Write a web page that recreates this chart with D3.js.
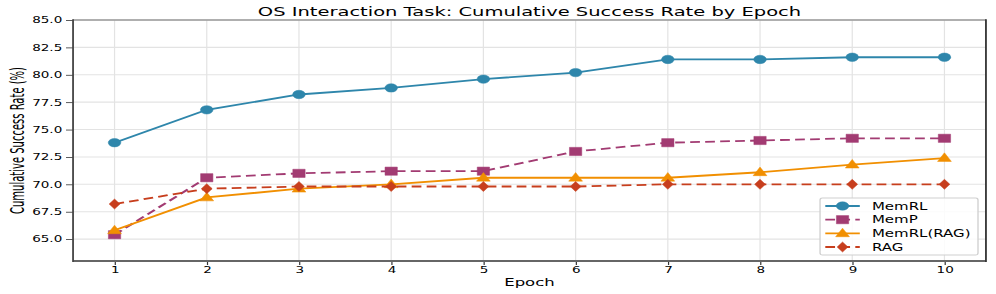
<!DOCTYPE html>
<html>
<head>
<meta charset="utf-8">
<script src="https://cdn.jsdelivr.net/npm/d3@7"></script>
<style>
  html, body { margin: 0; padding: 0; background: #fff; }
  svg { display: block; }
  text { font-family: "DejaVu Sans", sans-serif; fill: #000; }
</style>
</head>
<body>
<script>
// ---------------- data ----------------
const epochs = [1, 2, 3, 4, 5, 6, 7, 8, 9, 10];
const seriesNames = ["MemRL", "MemP", "MemRL(RAG)", "RAG"];
const memrl    = [73.8, 76.8, 78.2, 78.8, 79.6, 80.2, 81.4, 81.4, 81.6, 81.6];
const memp     = [65.4, 70.6, 71.0, 71.2, 71.2, 73.0, 73.8, 74.0, 74.2, 74.2];
const memrlRag = [65.8, 68.8, 69.6, 70.0, 70.6, 70.6, 70.6, 71.1, 71.8, 72.4];
const rag      = [68.2, 69.6, 69.8, 69.8, 69.8, 69.8, 70.0, 70.0, 70.0, 70.0];
const yTicks = [65.0, 67.5, 70.0, 72.5, 75.0, 77.5, 80.0, 82.5, 85.0];
const xTicks = epochs;
const titleText = "OS Interaction Task: Cumulative Success Rate by Epoch";
const xLabel = "Epoch";
const yLabel = "Cumulative Success Rate (%)";

(function () {
// ---------------- styles ----------------
const styles = [
  { color: "#2E86AB", dash: null,      marker: "circle"   },
  { color: "#A23B72", dash: "6.5,3.5", marker: "square"   },
  { color: "#F18F01", dash: null,      marker: "triangle" },
  { color: "#C73E1D", dash: "6.5,3.5", marker: "diamond"  }
];
const allValues = [memrl, memp, memrlRag, rag];

// The figure is drawn in a narrower virtual space and stretched horizontally.
const SX = 1.5;
const W = 996, H = 294;
const VW = W / SX;

const svg = d3.select("body").append("svg")
  .attr("width", W).attr("height", H)
  .attr("viewBox", `0 0 ${VW} ${H}`)
  .attr("preserveAspectRatio", "none");

const pLeft = 48.7, pRight = 657.3, pTop = 20, pBottom = 261;

const x = d3.scaleLinear().domain([0.55, 10.45]).range([pLeft, pRight]);
const y = d3.scaleLinear().domain([63, 85]).range([pBottom, pTop]);

// grid
const grid = svg.append("g");
grid.selectAll("line.gx").data(xTicks).join("line")
  .attr("class", "gx")
  .attr("x1", d => x(d)).attr("x2", d => x(d))
  .attr("y1", pTop).attr("y2", pBottom)
  .attr("stroke", "#e3e3e3").attr("stroke-width", 0.8);
grid.selectAll("line.gy").data(yTicks).join("line")
  .attr("class", "gy")
  .attr("x1", pLeft).attr("x2", pRight)
  .attr("y1", d => y(d)).attr("y2", d => y(d))
  .attr("stroke", "#e3e3e3").attr("stroke-width", 1.1);

// axes
const xAxis = d3.axisBottom(x).tickValues(xTicks).tickSize(4).tickPadding(2).tickFormat(d3.format("d"));
const yAxis = d3.axisLeft(y).tickValues(yTicks).tickSize(4.7).tickPadding(2.5).tickFormat(d3.format(".1f"));

const gx = svg.append("g").attr("transform", `translate(0,${pBottom})`).call(xAxis);
const gy = svg.append("g").attr("transform", `translate(${pLeft},0)`).call(yAxis);
[gx, gy].forEach(g => {
  g.select(".domain").remove();
  g.selectAll(".tick line").attr("stroke", "#333").attr("stroke-width", 0.8);
  g.selectAll(".tick text").attr("font-size", 9).attr("fill", "#000")
    .style("font-family", "DejaVu Sans, sans-serif");
});

// spines
svg.append("line").attr("x1", pLeft).attr("x2", pRight).attr("y1", pTop).attr("y2", pTop)
  .attr("stroke", "#999").attr("stroke-width", 1.6);
svg.append("line").attr("x1", pLeft).attr("x2", pRight).attr("y1", pBottom).attr("y2", pBottom)
  .attr("stroke", "#666").attr("stroke-width", 1.8);
svg.append("line").attr("x1", pLeft).attr("x2", pLeft).attr("y1", pTop - 0.8).attr("y2", pBottom + 0.9)
  .attr("stroke", "#444").attr("stroke-width", 1.2);
svg.append("line").attr("x1", pRight).attr("x2", pRight).attr("y1", pTop - 0.8).attr("y2", pBottom + 0.9)
  .attr("stroke", "#333").attr("stroke-width", 1.2);

// marker shapes (virtual units, centered)
function markerPath(type) {
  switch (type) {
    case "circle": return d3.symbol(d3.symbolCircle, Math.PI * 4.2 * 4.2)();
    case "square": return "M-4.1,-4.1H4.1V4.1H-4.1Z";
    case "triangle": return "M0,-5.2L4.6,3.4L-4.6,3.4Z";
    case "diamond": return "M0,-5L3.6,0L0,5L-3.6,0Z";
  }
}

const line = d3.line().x(d => x(d.e)).y(d => y(d.v));

seriesNames.forEach((name, i) => {
  const st = styles[i];
  const pts = epochs.map((e, j) => ({ e, v: allValues[i][j] }));
  const g = svg.append("g");
  g.append("path").datum(pts)
    .attr("d", line)
    .attr("fill", "none")
    .attr("stroke", st.color)
    .attr("stroke-width", 1.8)
    .attr("stroke-dasharray", st.dash);
  g.selectAll("path.m").data(pts).join("path")
    .attr("class", "m")
    .attr("d", markerPath(st.marker))
    .attr("transform", d => `translate(${x(d.e)},${y(d.v)})`)
    .attr("fill", st.color)
    .attr("stroke", st.color)
    .attr("stroke-width", 0.4);
});

// title
svg.append("text")
  .attr("x", (pLeft + pRight) / 2).attr("y", 16.5)
  .attr("text-anchor", "middle")
  .attr("font-size", 13)
  .text(titleText);

// x label
svg.append("text")
  .attr("x", (pLeft + pRight) / 2).attr("y", 286.5)
  .attr("text-anchor", "middle")
  .attr("font-size", 11)
  .text(xLabel);

// y label
svg.append("text")
  .attr("transform", `translate(11.6,${140.5}) rotate(-90)`)
  .attr("text-anchor", "middle")
  .attr("dominant-baseline", "central")
  .attr("font-size", 13)
  .attr("textLength", 147)
  .attr("lengthAdjust", "spacingAndGlyphs")
  .style("font-family", "'Liberation Sans Narrow', 'DejaVu Sans Condensed', sans-serif")
  .text(yLabel);

// legend
const lgX = 546.7, lgY = 198, lgW = 105.3, lgH = 57;
const lg = svg.append("g");
lg.append("rect")
  .attr("x", lgX).attr("y", lgY).attr("width", lgW).attr("height", lgH)
  .attr("rx", 1.5).attr("ry", 2)
  .attr("fill", "#fff").attr("fill-opacity", 0.85)
  .attr("stroke", "#d0d0d0").attr("stroke-width", 0.9);
const rowY = d3.scaleLinear().domain([0, 3]).range([lgY + 8, lgY + 49]);
seriesNames.forEach((name, i) => {
  const st = styles[i];
  const cy = rowY(i);
  lg.append("line")
    .attr("x1", lgX + 3.5).attr("x2", lgX + 26.5)
    .attr("y1", cy).attr("y2", cy)
    .attr("stroke", st.color).attr("stroke-width", 1.8)
    .attr("stroke-dasharray", st.dash);
  lg.append("path")
    .attr("d", markerPath(st.marker))
    .attr("transform", `translate(${lgX + 15},${cy})`)
    .attr("fill", st.color).attr("stroke", st.color).attr("stroke-width", 0.4);
  lg.append("text")
    .attr("x", lgX + 34.6).attr("y", cy)
    .attr("dominant-baseline", "central")
    .attr("font-size", 10)
    .text(name);
});
})();
</script>
</body>
</html>
